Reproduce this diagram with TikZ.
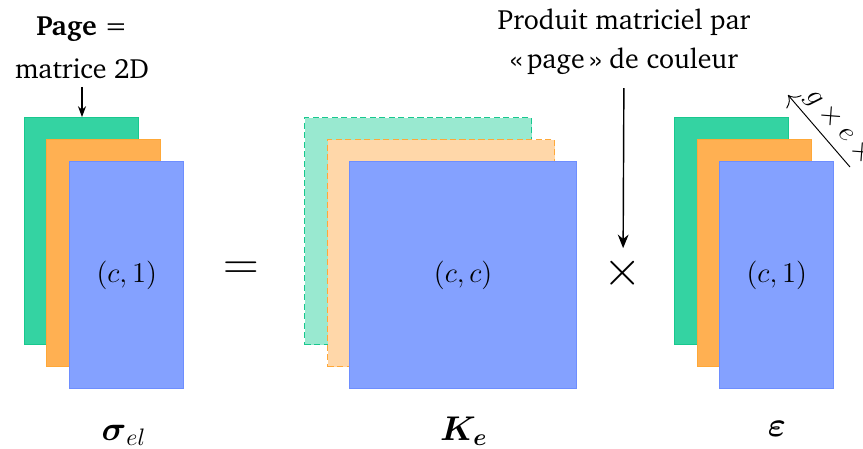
\documentclass[tikz,border=0pt]{standalone}
\usepackage{amsmath}
\usepackage[T1]{fontenc}
\usepackage{charter}
\usetikzlibrary{arrows.meta,positioning,calc}

\definecolor{pgreen}{HTML}{34D3A2}
\definecolor{porange}{HTML}{FFB052}
\definecolor{pblue}{HTML}{84A1FF}
\definecolor{pgreenD}{HTML}{18C88E}
\definecolor{porangeD}{HTML}{FFA838}
\definecolor{pblueD}{HTML}{6E8EFF}

\begin{document}
\begin{tikzpicture}[
  x=0.42pt, y=-0.42pt,
  font=\fontsize{11.7}{14}\selectfont,
  page/.style={draw=#1D, fill=#1, line width=.6pt, inner sep=0pt, anchor=north west},
  ghost/.style={draw=#1D, fill=#1!50, line width=.6pt, dash pattern=on 2.6pt off 1.4pt, inner sep=0pt, anchor=north west},
  narrow/.style={minimum width=47.9pt, minimum height=95.3pt},
  square/.style={minimum width=95.3pt, minimum height=95.3pt},
  dims/.style={font=\fontsize{11.5}{13}\selectfont},
  op/.style={font=\fontsize{20}{24}\selectfont},
  arrow/.style={-{Stealth[length=2mm, width=1.6mm]}, line width=.6pt},
  small arrow/.style={-{Stealth[length=1.6mm, width=1.2mm]}, line width=.45pt},
  thin arrow/.style={-{To[length=1.4mm]}, line width=.4pt}
]
\useasboundingbox (0,0) rectangle (863,448);

% sigma
\node[page=pgreen, narrow] (sg) at (24,117) {};
\node[page=porange, narrow] (so) at (46,139) {};
\node[page=pblue, narrow, dims] (sb) at (69,161) {$(c,1)$};
\node[anchor=base] (pg) at (82,35) {\textbf{Page} =};
\node[anchor=base] (mat) at (82,78) {matrice 2D};
\draw[small arrow] (mat.south) -- (mat.south |- sg.north);

\node[op] (eq) at (241,271) {$=$};

% K
\node[ghost=pgreen, square] (kg) at (304,117) {};
\node[ghost=porange, square] (ko) at (327,139) {};
\node[page=pblue, square, dims] (kb) at (349,161) {$(c,c)$};

\node[anchor=base] (prod) at (624,29) {Produit matriciel par};
\node[anchor=base] (coul) at (624,68) {\guillemotleft\,page\,\guillemotright{} de couleur};
\node[op] (times) at (623,273) {$\times$};
\draw[arrow, shorten <=2.5pt] (coul) -- (times);

% epsilon
\node[page=pgreen, narrow] (eg) at (674,117) {};
\node[page=porange, narrow] (eo) at (697,139) {};
\node[page=pblue, narrow, dims] (eb) at (719,161) {$(c,1)$};

\coordinate (dimtail) at (850,167);
\coordinate (dimhead) at (788,95);
\draw[thin arrow] (dimtail) -- (dimhead);
\node[rotate=-49.3, anchor=south west, inner sep=2.5pt] (dim) at ($(dimhead)!0.06!(dimtail)$) {$g\times e\times l$};

% labels
\node[anchor=base, font=\Large] (lsig) at (124,440) {$\boldsymbol{\sigma}_{el}$};
\node[anchor=base, font=\Large] (lk) at (464,440) {$\boldsymbol{K_e}$};
\node[anchor=base, font=\Large] (leps) at (777,436) {$\boldsymbol{\varepsilon}$};
\end{tikzpicture}
\end{document}
